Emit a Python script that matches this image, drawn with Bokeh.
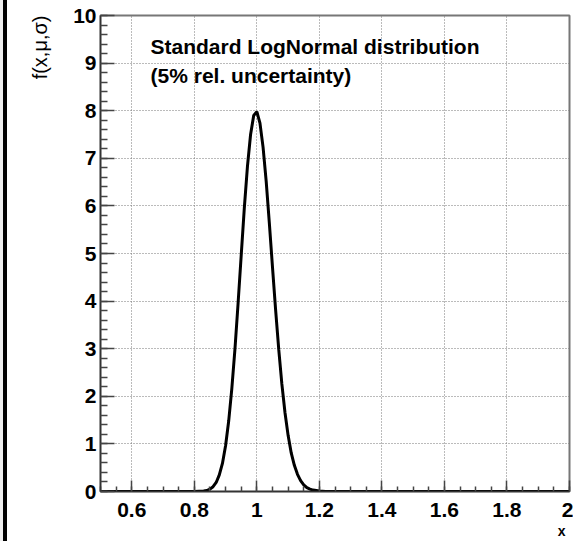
from bokeh.plotting import figure
from bokeh.models import Range1d, FixedTicker, Label, Spacer, Title
from bokeh.layouts import row
from bokeh.embed import file_html
from bokeh.resources import INLINE

# curve values
xs = [0.50, 0.80, 0.83, 0.84, 0.85, 0.86, 0.87, 0.88, 0.89, 0.90, 0.91, 0.92, 0.93,
      0.94, 0.95, 0.96, 0.97, 0.98, 0.99, 1.00, 1.01, 1.02, 1.03, 1.04, 1.05,
      1.06, 1.07, 1.08, 1.09, 1.10, 1.11, 1.12, 1.13, 1.14, 1.15, 1.16, 1.17,
      1.18, 1.19, 1.20, 1.22, 2.00]
ys = [0.0, 0.0, 0.01, 0.02, 0.05, 0.10, 0.19, 0.35, 0.59, 0.96, 1.48, 2.16, 2.99,
      3.95, 4.96, 5.96, 6.83, 7.50, 7.90, 7.98, 7.74, 7.23, 6.51, 5.64, 4.72,
      3.82, 2.99, 2.26, 1.66, 1.18, 0.81, 0.55, 0.36, 0.23, 0.14, 0.08, 0.05,
      0.03, 0.02, 0.01, 0.0, 0.0]

x_major = [0.6, 0.8, 1.0, 1.2, 1.4, 1.6, 1.8, 2.0]
x_labels = ["0.6", "0.8", "1", "1.2", "1.4", "1.6", "1.8", "2"]
x_minor = [round(0.5 + 0.05 * i, 2) for i in range(31)]
y_major = [0, 1, 2, 3, 4, 5, 6, 7, 8, 9, 10]
y_minor = [round(0.2 * i, 1) for i in range(51)]

title_lines = ["Standard LogNormal distribution", "(5% rel. uncertainty)"]
x_title = "x"
y_title = "f(x,μ,σ)"

FONT = "Liberation Sans"

p = figure(width=566, height=541, output_backend="svg", toolbar_location=None,
           x_range=Range1d(0.5, 2.0), y_range=Range1d(0, 10),
           min_border_left=93, min_border_right=4, min_border_top=15,
           min_border_bottom=50)
p.background_fill_color = "white"
p.border_fill_color = "white"
p.outline_line_color = "#777777"
p.outline_line_width = 2

p.xaxis.ticker = FixedTicker(ticks=x_major, minor_ticks=x_minor)
p.yaxis.ticker = FixedTicker(ticks=y_major, minor_ticks=y_minor)
p.xaxis.major_label_overrides = {t: l for t, l in zip(x_major, x_labels)}
p.yaxis.major_label_overrides = {t: str(t) for t in y_major}

for ax in (p.xaxis[0], p.yaxis[0]):
    ax.major_label_text_font = FONT
    ax.major_label_text_font_style = "bold"
    ax.major_label_text_font_size = "21px"
    ax.major_label_text_color = "black"
    ax.major_tick_out = 0
    ax.minor_tick_out = 0
    ax.axis_line_color = "#333333"
    ax.axis_line_width = 1.5
    ax.major_tick_line_color = "#444444"
    ax.minor_tick_line_color = "#444444"
    ax.major_tick_line_width = 1.5
    ax.minor_tick_line_width = 1.5

p.xaxis.major_tick_in = 11
p.xaxis.minor_tick_in = 5
p.xaxis.major_label_standoff = 11
p.yaxis.major_tick_in = 14
p.yaxis.minor_tick_in = 7
p.yaxis.major_label_standoff = 4

for g in (p.xgrid[0], p.ygrid[0]):
    g.grid_line_color = "#777777"
    g.grid_line_dash = "1 2"
    g.grid_line_width = 1

p.line(xs, ys, line_color="black", line_width=3)

p.add_layout(Label(x=0.66, y=9.345, text=title_lines[0], text_font=FONT,
                   text_font_style="bold", text_font_size="21px",
                   text_color="black", text_baseline="alphabetic"))
p.add_layout(Label(x=0.66, y=8.735, text=title_lines[1], text_font=FONT,
                   text_font_style="bold", text_font_size="21px",
                   text_color="black", text_baseline="alphabetic"))

p.add_layout(Title(text=y_title, align="right", vertical_align="top",
                   text_font=FONT, text_font_style="normal",
                   text_font_size="20px", text_color="black", standoff=36),
             "left")
p.add_layout(Title(text=x_title, align="right", text_font=FONT,
                   text_font_style="bold", text_font_size="14px",
                   text_color="black", standoff=3, offset=4), "below")

s1 = Spacer(width=3, height=541, margin=0, styles={"background-color": "#eeeeee"})
s2 = Spacer(width=4, height=541, margin=0, styles={"background-color": "black"})
layout = row(s1, s2, p, spacing=0)

open("out.html", "w").write(file_html(layout, INLINE))
